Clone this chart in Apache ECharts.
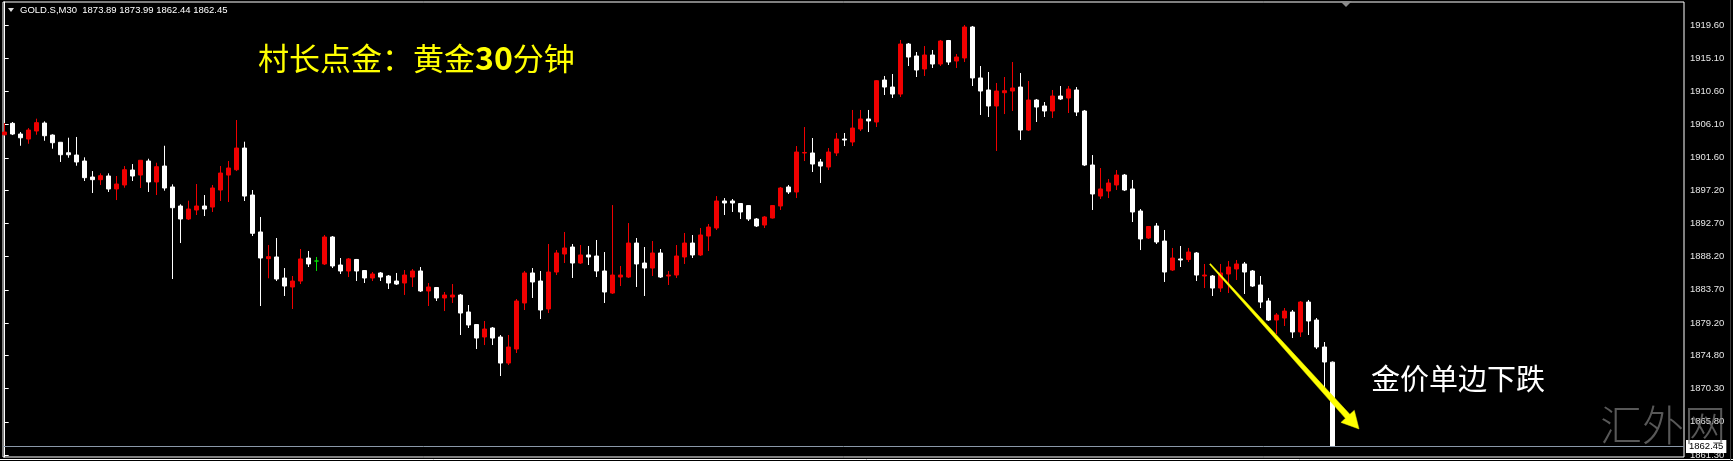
<!DOCTYPE html>
<html>
<head>
<meta charset="utf-8">
<script src="https://cdn.jsdelivr.net/npm/echarts@6/dist/echarts.min.js"></script>
<style>
html,body{margin:0;padding:0;background:#000;}
#c{width:1733px;height:461px;}
</style>
</head>
<body>
<div id="c"></div>
<script>
// ---- data ----
const symbolName = 'GOLD.S,M30';
const opens = [
1904.72,1906.27,1904.82,1904.14,1905.23,1906.31,1904.68,1903.70,1902.28,1901.97,
1901.16,1898.99,1898.63,1899.13,1897.37,1897.91,1899.94,1899.26,1901.16,1898.32,
1900.48,1897.64,1895.06,1893.30,1894.52,1895.06,1894.92,1897.23,1899.26,1899.98,
1902.92,1896.55,1891.54,1887.92,1888.15,1885.30,1884.08,1884.89,1888.01,1887.60,
1887.20,1890.86,1887.06,1886.25,1887.81,1886.31,1885.30,1885.98,1885.57,1884.89,
1884.62,1885.43,1886.25,1883.54,1884.01,1882.59,1882.72,1882.99,1880.69,1878.99,
1877.30,1878.52,1877.30,1873.77,1875.67,1881.91,1885.98,1884.89,1881.10,1886.11,
1888.55,1889.50,1887.33,1888.42,1888.28,1886.25,1883.26,1885.43,1885.43,1890.04,
1887.33,1886.65,1888.69,1885.57,1885.70,1888.15,1890.04,1888.42,1890.99,1892.08,
1895.74,1895.74,1895.40,1895.12,1893.30,1892.48,1893.43,1895.06,1897.64,1896.96,
1902.25,1902.25,1901.03,1900.35,1902.25,1904.14,1903.74,1905.50,1906.86,1906.45,
1912.14,1911.19,1910.24,1917.02,1915.40,1913.64,1915.53,1914.31,1917.50,1914.72,
1915.13,1919.33,1912.42,1910.79,1908.62,1910.42,1910.65,1911.19,1905.36,1909.43,
1908.62,1907.94,1909.97,1909.70,1910.79,1907.94,1900.62,1896.41,1897.09,1897.91,
1899.26,1897.37,1894.38,1890.72,1892.35,1890.31,1886.38,1887.88,1887.81,1888.69,
1885.57,1885.57,1883.94,1885.84,1886.52,1887.20,1886.25,1884.35,1882.18,1879.60,
1879.87,1880.69,1877.98,1882.04,1879.60,1875.94,1873.89
];
const closes = [
1905.09,1904.82,1904.31,1905.36,1906.36,1904.59,1903.64,1902.01,1902.01,1901.03,
1898.90,1898.63,1899.17,1897.37,1898.04,1899.98,1899.13,1901.26,1898.32,1900.39,
1897.50,1894.83,1893.30,1894.65,1895.06,1894.65,1897.50,1899.53,1900.21,1902.92,
1896.41,1891.36,1888.01,1888.19,1885.16,1884.21,1884.89,1887.88,1887.20,1887.60,
1890.86,1886.93,1886.25,1887.88,1886.25,1885.30,1885.84,1885.43,1884.62,1884.48,
1885.70,1886.25,1883.54,1884.08,1882.59,1882.99,1882.99,1880.55,1878.93,1877.16,
1878.38,1877.16,1873.77,1875.94,1882.18,1885.98,1884.76,1880.96,1886.11,1888.69,
1889.37,1887.33,1888.42,1888.15,1886.25,1883.40,1885.70,1885.70,1890.04,1887.20,
1886.65,1888.69,1885.43,1885.70,1888.28,1890.04,1888.42,1891.13,1892.21,1895.74,
1895.47,1895.47,1894.25,1893.30,1892.35,1893.57,1895.12,1897.50,1896.96,1902.38,
1902.31,1900.75,1900.48,1902.38,1904.14,1904.01,1905.63,1906.86,1906.59,1912.05,
1911.19,1910.24,1917.02,1915.26,1913.50,1915.53,1914.31,1917.43,1914.58,1915.26,
1919.33,1912.42,1910.65,1908.62,1910.65,1910.69,1911.06,1905.36,1909.43,1908.48,
1907.94,1909.97,1909.57,1910.92,1907.80,1900.62,1896.69,1897.37,1898.18,1899.26,
1897.23,1894.25,1890.59,1892.28,1890.18,1886.11,1888.01,1887.74,1888.82,1885.70,
1885.70,1883.94,1885.98,1886.79,1887.20,1886.11,1884.21,1882.04,1879.60,1880.28,
1880.82,1877.98,1882.04,1879.47,1875.94,1873.91,1862.45
];
const lows = [
1904.64,1904.68,1903.23,1903.50,1904.72,1903.91,1902.83,1901.03,1901.61,1900.52,
1898.45,1896.82,1897.91,1896.96,1895.87,1897.54,1898.45,1897.50,1896.96,1896.55,
1897.14,1885.16,1890.04,1893.16,1893.84,1893.70,1894.25,1895.74,1895.60,1899.80,
1895.74,1890.99,1881.50,1885.26,1884.89,1882.86,1881.10,1884.48,1886.79,1886.25,
1887.06,1886.65,1885.84,1885.43,1884.89,1884.62,1884.89,1884.89,1883.81,1884.35,
1883.00,1884.08,1883.40,1881.50,1882.18,1880.82,1881.91,1877.57,1878.52,1875.67,
1876.21,1876.21,1872.01,1873.50,1875.13,1880.96,1882.59,1879.74,1880.55,1885.70,
1887.33,1885.30,1887.20,1887.06,1885.43,1881.91,1883.13,1884.21,1885.30,1884.08,
1882.86,1885.57,1885.30,1884.35,1885.30,1887.20,1888.01,1888.28,1888.96,1891.81,
1893.84,1894.25,1893.30,1893.03,1892.21,1892.08,1893.36,1894.52,1896.69,1896.14,
1901.16,1899.67,1898.18,1899.94,1901.84,1903.19,1903.19,1905.23,1905.09,1905.77,
1910.11,1909.70,1909.84,1914.04,1912.55,1912.69,1913.77,1914.04,1914.18,1913.77,
1914.58,1911.33,1907.40,1907.13,1902.52,1907.53,1907.94,1904.01,1905.23,1906.45,
1907.13,1906.99,1909.43,1907.67,1907.26,1900.48,1894.52,1896.01,1896.14,1897.23,
1897.09,1892.89,1889.09,1890.59,1889.91,1884.76,1886.25,1886.79,1887.47,1884.89,
1883.94,1882.86,1883.40,1883.26,1885.03,1883.13,1884.08,1881.23,1879.47,1877.70,
1878.79,1877.16,1877.30,1877.57,1875.67,1870.11,1862.44
];
const highs = [
1906.31,1906.45,1905.09,1905.63,1906.90,1906.54,1904.78,1903.74,1904.32,1904.42,
1901.66,1899.80,1899.49,1899.49,1899.13,1900.48,1900.75,1901.30,1901.47,1900.93,
1903.23,1898.00,1895.29,1895.78,1898.04,1896.55,1897.91,1900.48,1901.16,1906.72,
1903.78,1897.23,1893.57,1889.77,1890.72,1886.65,1885.57,1889.23,1888.96,1888.15,
1891.13,1890.99,1888.01,1888.01,1887.88,1886.38,1886.11,1886.11,1885.70,1885.98,
1886.38,1886.52,1886.79,1884.62,1884.08,1883.40,1884.48,1883.13,1881.64,1879.06,
1879.47,1878.65,1877.57,1877.57,1882.45,1886.25,1886.65,1886.25,1889.91,1889.09,
1891.54,1889.91,1889.77,1889.64,1890.45,1888.82,1895.19,1886.93,1892.75,1890.72,
1889.50,1890.31,1889.23,1886.25,1889.77,1891.40,1891.13,1892.08,1892.62,1896.41,
1896.14,1896.01,1895.47,1895.19,1893.43,1893.70,1895.19,1897.64,1897.91,1903.19,
1905.77,1904.28,1901.43,1902.92,1904.96,1904.96,1908.08,1908.08,1908.08,1912.14,
1912.69,1912.96,1917.57,1917.16,1915.94,1916.75,1916.21,1917.57,1917.57,1915.67,
1919.60,1919.47,1914.04,1913.23,1911.74,1912.55,1914.58,1913.09,1912.01,1909.57,
1909.16,1910.79,1911.33,1911.33,1911.19,1908.08,1901.97,1900.21,1898.72,1899.94,
1899.40,1898.59,1894.65,1892.35,1892.75,1891.81,1889.37,1889.64,1889.37,1888.82,
1887.20,1885.70,1887.20,1887.60,1887.74,1887.47,1886.38,1885.57,1882.59,1880.55,
1881.23,1880.96,1882.18,1882.32,1879.87,1876.62,1873.99
];
const yTicks = [1861.30,1865.80,1870.30,1874.80,1879.20,1883.70,1888.20,1892.70,1897.20,1901.60,1906.10,1910.60,1915.10,1919.60];
// visible price range and bar range of the chart window
const yMin = 1861.03, yMax = 1922.72;
const xMin = -0.2125, xMax = 209.9125;
// trend arrow (bar index, price)
const arrowFrom = [150.66, 1887.20];
const arrowTo = [169.29, 1864.83];
const titleParts = ['村长点金：黄金', '30', '分钟'];
const noteText = '金价单边下跌';
const watermarkText = '汇外网';

// ---- build ----
const last = opens.length - 1;
const currentPrice = closes[last];
const headerText = symbolName + '  ' + [opens[last], highs[last], lows[last], closes[last]].map(v => v.toFixed(2)).join(' ');
const UP = '#f00000', DOWN = '#ffffff', DOJI = '#00e000';
const candleData = opens.map((o, i) => {
  const item = { value: [i, o, closes[i], lows[i], highs[i]] };
  if (o === closes[i]) item.itemStyle = { color: DOJI, color0: DOJI, borderColor: DOJI, borderColor0: DOJI, borderColorDoji: DOJI };
  return item;
});

const chart = echarts.init(document.getElementById('c'), null, { renderer: 'canvas' });
const labelFont = 'Liberation Sans, Arial, sans-serif';
const cjk = '"Noto Sans CJK SC", sans-serif';
chart.setOption({
  animation: false,
  backgroundColor: '#000',
  grid: { left: 3, top: 2, width: 1681, height: 455, show: true, borderColor: '#ffffff', borderWidth: 1, backgroundColor: '#000' },
  xAxis: { type: 'value', min: xMin, max: xMax, show: false },
  yAxis: {
    type: 'value', position: 'right', min: yMin, max: yMax,
    axisLine: { show: true, lineStyle: { color: '#ffffff', width: 1 } },
    axisTick: { show: true, inside: false, length: 4, lineStyle: { color: '#ffffff' }, customValues: yTicks },
    axisLabel: { show: true, margin: 6, color: '#e6e6e6', fontSize: 9.5, fontFamily: labelFont, customValues: yTicks, formatter: v => v.toFixed(2) },
    splitLine: { show: false }
  },
  series: [
    {
      type: 'candlestick',
      data: candleData,
      encode: { x: 0, y: [1, 2, 3, 4] },
      barWidth: 4,
      clip: true,
      itemStyle: { color: UP, color0: DOWN, borderColor: UP, borderColor0: DOWN, borderColorDoji: DOJI, borderWidth: 1 },
      emphasis: { disabled: true },
      markLine: {
        silent: true,
        symbol: ['none', 'none'],
        animation: false,
        lineStyle: { color: '#8a98a8', width: 1, type: 'solid' },
        label: { show: true, position: 'end', distance: 2, formatter: currentPrice.toFixed(2), color: '#000', backgroundColor: '#ffffff', padding: [2, 3, 1, 3], fontSize: 9.5, fontFamily: labelFont },
        emphasis: { disabled: true },
        data: [{ yAxis: currentPrice }]
      },
      z: 3
    },
    {
      type: 'custom',
      data: [[arrowFrom[0], arrowFrom[1], arrowTo[0], arrowTo[1]]],
      encode: { x: [0, 2], y: [1, 3] },
      clip: false,
      silent: true,
      z: 6,
      renderItem: function (params, api) {
        const a = api.coord([api.value(0), api.value(1)]);
        const b = api.coord([api.value(2), api.value(3)]);
        const dx = b[0] - a[0], dy = b[1] - a[1];
        const L = Math.hypot(dx, dy);
        const ux = dx / L, uy = dy / L, nx = -uy, ny = ux;
        const headLen = 17, headHalf = 9, w0 = 0.6, w1 = 3.0;
        const bx = b[0] - ux * headLen, by = b[1] - uy * headLen;
        const pts = [
          [a[0] + nx * w0, a[1] + ny * w0],
          [bx + nx * w1, by + ny * w1],
          [bx + nx * headHalf, by + ny * headHalf],
          [b[0], b[1]],
          [bx - nx * headHalf, by - ny * headHalf],
          [bx - nx * w1, by - ny * w1],
          [a[0] - nx * w0, a[1] - ny * w0]
        ];
        return { type: 'polygon', shape: { points: pts }, style: { fill: '#ffff00', stroke: '#e8e800', lineWidth: 0.5 } };
      }
    }
  ],
  graphic: [
    { type: 'polygon', shape: { points: [[8, 8], [14, 8], [11, 12]] }, style: { fill: '#e0e0e0' }, z: 10 },
    { type: 'text', left: 20, top: 5, style: { text: headerText, fill: '#ffffff', font: '9.5px ' + labelFont }, z: 10 },
    { type: 'text', left: 258, top: 42, style: {
        text: '{a|' + titleParts[0] + '}{b|' + titleParts[1] + '}{a|' + titleParts[2] + '}',
        rich: {
          a: { fill: '#ffff00', color: '#ffff00', fontSize: 31, fontFamily: cjk },
          b: { fill: '#ffff00', color: '#ffff00', fontSize: 32, fontWeight: 'bold', fontFamily: cjk }
        }
      }, z: 10 },
    { type: 'text', left: 1371, top: 364, style: { text: noteText, fill: '#ffffff', font: '29px ' + cjk }, z: 10 },
    { type: 'text', left: 1600, top: 404, style: { text: watermarkText, fill: 'rgba(125,125,125,0.7)', font: '300 42px "Noto Sans CJK SC", serif' }, z: 20 },
    { type: 'polygon', shape: { points: [[1340, 1], [1352, 1], [1346, 7]] }, style: { fill: '#8c8c8c' }, z: 10 },
    { type: 'line', shape: { x1: 0, y1: 459.5, x2: 1733, y2: 459.5 }, style: { stroke: '#ffffff', lineWidth: 1 }, z: 10 },
    { type: 'line', shape: { x1: 1730.5, y1: 0, x2: 1730.5, y2: 461 }, style: { stroke: '#3c3c3c', lineWidth: 1 }, z: 10 }
  ]
});
</script>
</body>
</html>
